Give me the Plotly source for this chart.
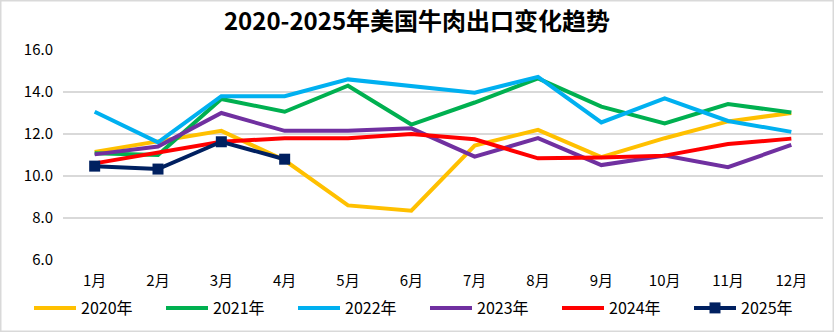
import plotly.graph_objects as go

months = ["1月", "2月", "3月", "4月", "5月", "6月", "7月", "8月", "9月", "10月", "11月", "12月"]
y2020 = [11.15, 11.65, 12.15, 10.75, 8.6, 8.35, 11.45, 12.2, 10.9, 11.8, 12.6, 13.0]
y2021 = [11.08, 11.0, 13.67, 13.06, 14.3, 12.45, 13.5, 14.65, 13.3, 12.5, 13.43, 13.02]
y2022 = [13.06, 11.6, 13.8, 13.8, 14.6, 14.3, 13.97, 14.72, 12.55, 13.7, 12.62, 12.1]
y2023 = [11.03, 11.4, 13.0, 12.15, 12.15, 12.27, 10.92, 11.8, 10.52, 10.97, 10.42, 11.48]
y2024 = [10.6, 11.12, 11.63, 11.8, 11.8, 12.0, 11.75, 10.84, 10.88, 10.97, 11.52, 11.78]
y2025 = [10.47, 10.33, 11.63, 10.8]

series = [
    ("2020年", y2020, "#FFC000"),
    ("2021年", y2021, "#00B050"),
    ("2022年", y2022, "#00B0F0"),
    ("2023年", y2023, "#7030A0"),
    ("2024年", y2024, "#FF0000"),
]

FONT = "Noto Sans CJK SC"
fig = go.Figure()
for name, vals, color in series:
    fig.add_trace(go.Scatter(x=months[:len(vals)], y=vals, name=name, mode="lines",
                             line=dict(color=color, width=4)))
fig.add_trace(go.Scatter(x=months[:len(y2025)], y=y2025, name="2025年", mode="lines+markers",
                         line=dict(color="#002060", width=4),
                         marker=dict(symbol="square", size=11, color="#002060")))

fig.update_layout(
    width=834, height=332,
    margin=dict(l=63, r=11, t=50, b=72, autoexpand=False),
    paper_bgcolor="white", plot_bgcolor="white",
    font=dict(family=FONT, size=15, color="#000000"),
    title=dict(text="<b>2020-2025年美国牛肉出口变化趋势</b>", x=0.5, xanchor="center",
               y=1 - 22 / 332, yanchor="middle", xref="container", yref="container",
               font=dict(family=FONT, size=24, color="#000000")),
    showlegend=True,
    legend=dict(orientation="h", xref="paper", yref="paper",
                x=(29 - 63) / 760, xanchor="left", y=-(308 - 260) / 210, yanchor="middle",
                entrywidth=75, entrywidthmode="pixels",
                font=dict(family=FONT, size=16), itemwidth=42,
                bgcolor="rgba(0,0,0,0)"),
    xaxis=dict(type="category", categoryorder="array", categoryarray=months,
               range=[-0.5, 11.5], showgrid=False, showline=False, ticks="",
               ticklabelstandoff=10, tickfont=dict(family=FONT, size=15)),
    yaxis=dict(range=[6, 16], dtick=2, tickformat=".1f", showgrid=True,
               gridcolor="#D9D9D9", gridwidth=1.5, zeroline=False, showline=False,
               ticks="", ticklen=0, ticklabelstandoff=9, tickfont=dict(family=FONT, size=15)),
    shapes=[dict(type="rect", xref="paper", yref="paper", x0=-63 / 760, x1=1 + 11 / 760,
                 y0=-72 / 210, y1=1 + 50 / 210, line=dict(color="#D9D9D9", width=3),
                 fillcolor="rgba(0,0,0,0)", layer="below")],
)
fig.write_html("out.html")
